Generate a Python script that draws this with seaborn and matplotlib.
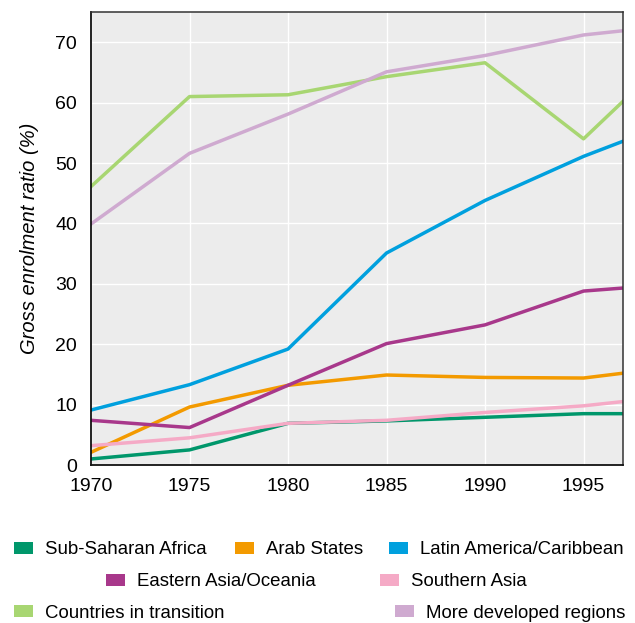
import matplotlib
matplotlib.use("Agg")
import pandas as pd
import seaborn as sns
from matplotlib import pyplot as plt
from matplotlib.patches import Patch

years = [1970, 1975, 1980, 1985, 1990, 1995, 1997]

sub_saharan = [1.0, 2.5, 6.9, 7.3, 7.9, 8.5, 8.5]
arab_states = [2.1, 9.6, 13.2, 14.9, 14.5, 14.4, 15.2]
latin_america = [9.1, 13.3, 19.2, 35.1, 43.8, 51.1, 53.6]
eastern_asia = [7.4, 6.2, 13.2, 20.1, 23.2, 28.8, 29.3]
southern_asia = [3.2, 4.5, 6.9, 7.4, 8.7, 9.8, 10.5]
transition = [46.1, 61.0, 61.3, 64.3, 66.6, 54.0, 60.2]
developed = [39.9, 51.6, 58.1, 65.1, 67.8, 71.2, 71.9]

regions = [
    "Sub-Saharan Africa",
    "Arab States",
    "Latin America/Caribbean",
    "Eastern Asia/Oceania",
    "Southern Asia",
    "Countries in transition",
    "More developed regions",
]
series = [sub_saharan, arab_states, latin_america, eastern_asia,
          southern_asia, transition, developed]
colors = ["#00976b", "#f39a00", "#00a0de", "#a8388b",
          "#f5aac6", "#a8d672", "#cfaad0"]

df = pd.DataFrame(
    [(r, y, v) for r, vals in zip(regions, series) for y, v in zip(years, vals)],
    columns=["region", "year", "ratio"],
)

plt.rcParams["font.family"] = ["Liberation Sans", "DejaVu Sans"]

fig = plt.figure(figsize=(6.35, 6.23), dpi=100)
ax = fig.add_axes([0.1433, 0.2536, 0.8377, 0.7271])
ax.set_facecolor("#ececec")

sns.lineplot(data=df, x="year", y="ratio", hue="region", hue_order=regions,
             palette=dict(zip(regions, colors)), linewidth=2.5,
             legend=False, ax=ax)

ax.set_xlim(1970, 1997)
ax.set_ylim(0, 75)
ax.set_xticks([1970, 1975, 1980, 1985, 1990, 1995])
ax.set_yticks(range(0, 71, 10))
ax.tick_params(axis="y", length=0, labelsize=14, pad=10)
ax.tick_params(axis="x", length=0, labelsize=14, pad=9)
ax.grid(True, color="white", linewidth=1.0)
ax.set_axisbelow(True)
ax.set_xlabel("")
ax.set_ylabel("Gross enrolment ratio (%)", fontsize=14.5, style="italic", labelpad=12)
for side in ["left", "bottom"]:
    ax.spines[side].set_color("#111111")
    ax.spines[side].set_linewidth(1.3)
for side in ["top", "right"]:
    ax.spines[side].set_color("#333333")
    ax.spines[side].set_linewidth(1.1)

# legend items placed like the original (figure pixel coords of the swatch)
legend_pos = [(14, 550), (235, 550), (389, 550),
              (106, 582), (380, 582),
              (14, 613), (395, 613)]
W, H = 635, 623
for name, col, (px, py) in zip(regions, colors, legend_pos):
    handle = Patch(facecolor=col, edgecolor="none")
    fig.legend([handle], [name], loc="center left",
               bbox_to_anchor=(px / W, 1 - py / H), frameon=False,
               fontsize=13.4, handlelength=1.0, handleheight=0.55,
               handletextpad=0.65, borderpad=0, borderaxespad=0)

fig.savefig("out.png", dpi=100)
